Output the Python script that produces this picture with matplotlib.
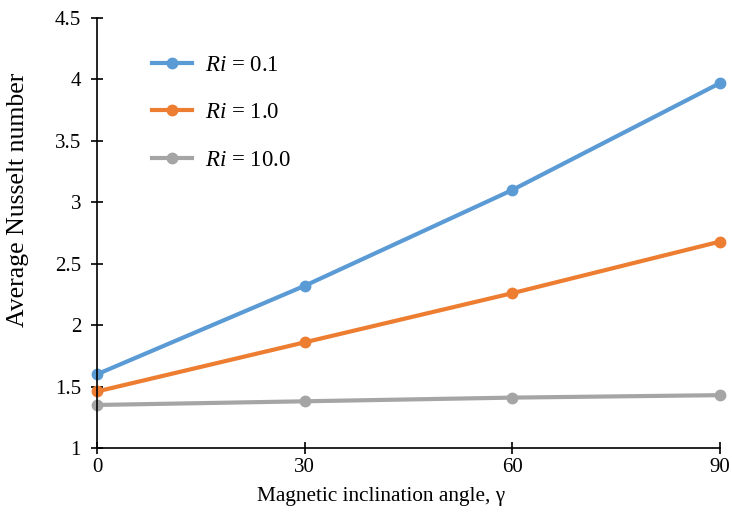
import matplotlib
matplotlib.use("Agg")
import matplotlib.pyplot as plt

plt.rcParams['font.family'] = ['Liberation Serif', 'DejaVu Serif']
plt.rcParams['mathtext.fontset'] = 'custom'
plt.rcParams['mathtext.rm'] = 'Liberation Serif'
plt.rcParams['mathtext.it'] = 'Liberation Serif:italic'

angles = [0, 30, 60, 90]
nu_ri01 = [1.60, 2.32, 3.10, 3.97]
nu_ri1 = [1.46, 1.86, 2.26, 2.68]
nu_ri10 = [1.35, 1.38, 1.41, 1.43]
labels = [r'$\mathit{Ri}$ = 0.1', r'$\mathit{Ri}$ = 1.0', r'$\mathit{Ri}$ = 10.0']
colors = ['#5B9BD5', '#ED7D31', '#A5A5A5']

fig = plt.figure(figsize=(7.32, 5.22), dpi=100)
ax = fig.add_axes([0.1325, 0.1418, 0.851, 0.8237])

for y, lab, c in zip([nu_ri01, nu_ri1, nu_ri10], labels, colors):
    ax.plot(angles, y, color=c, lw=3.0, marker='o', ms=7.5, label=lab)

ax.set_xlim(0, 90)
ax.set_ylim(1, 4.5)
ax.set_xticks([0, 30, 60, 90])
ax.set_yticks([1, 1.5, 2, 2.5, 3, 3.5, 4, 4.5])
ax.set_yticklabels(['1', '1.5', '2', '2.5', '3', '3.5', '4', '4.5'])
ax.spines['top'].set_visible(False)
ax.spines['right'].set_visible(False)
for s in ['left', 'bottom']:
    ax.spines[s].set_linewidth(1.2)
ax.tick_params(direction='inout', length=9, width=1.2, labelsize=15)
ax.tick_params(axis='y', pad=7)
ax.tick_params(axis='x', pad=3)
for line in ax.lines:
    line.set_clip_on(False)

ax.set_xlabel('Magnetic inclination angle, γ', fontsize=15.3)
ax.xaxis.set_label_coords(0.456, -0.114)
ax.xaxis.label.set_va('center')
ax.set_ylabel('Average Nusselt number', fontsize=18.5)
ax.yaxis.set_label_coords(-0.127, 0.577)
ax.yaxis.label.set_va('center')

ax.legend(loc='upper left', bbox_to_anchor=(0.088, 0.915), frameon=False,
          fontsize=16.5, labelspacing=1.17, handlelength=1.75, handletextpad=0.57,
          borderpad=0, borderaxespad=0)

fig.savefig('out.png', dpi=100)
